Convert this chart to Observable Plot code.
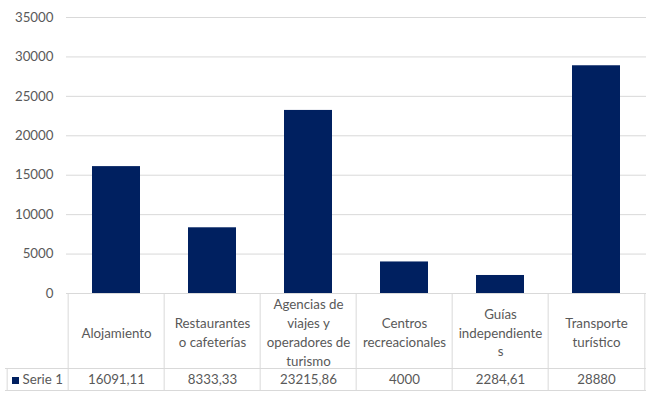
<!DOCTYPE html>
<html>
<head>
<meta charset="utf-8">
<script src="https://cdn.jsdelivr.net/npm/d3@7"></script>
<script src="https://cdn.jsdelivr.net/npm/@observablehq/plot@0.6"></script>
<style>
  html, body { margin: 0; padding: 0; background: #fff; }
</style>
</head>
<body>
<div id="chart"></div>
<script>
// ---- data ----
const categories = ["Alojamiento", "Restaurantes o cafeterías", "Agencias de viajes y operadores de turismo", "Centros recreacionales", "Guías independientes", "Transporte turístico"];
const categoryLabels = ["Alojamiento", "Restaurantes\no cafeterías", "Agencias de\nviajes y\noperadores de\nturismo", "Centros\nrecreacionales", "Guías\nindependiente\ns", "Transporte\nturístico"];
const values = [16091.11, 8333.33, 23215.86, 4000, 2284.61, 28880];
const seriesName = "Serie 1";
const yTicks = [0, 5000, 10000, 15000, 20000, 25000, 30000, 35000];

// ---- layout ----
const W = 653, H = 401;
const mL = 66, mR = 7, mT = 17, mB = 108;
const plotH = H - mT - mB;            // chart area height
const headerH = 75, rowH = 22;         // data table rows
const legendW = 61;                     // left legend cell width
const step = (W - mL - mR) / categories.length;
const gridColor = "#d9d9d9";
const textColor = "#595959";
const barColor = "#002060";

const data = categories.map((c, i) => ({cat: c, label: categoryLabels[i], value: values[i]}));
const fmt = v => String(v).replace(".", ",");

const chart = Plot.plot({
  width: W,
  height: H,
  marginLeft: mL,
  marginRight: mR,
  marginTop: mT,
  marginBottom: mB,
  style: {fontFamily: "Lato, sans-serif", fontSize: "13.3px", color: textColor, background: "#fff"},
  x: {domain: categories, paddingInner: 0.5, paddingOuter: 0.25, axis: null},
  y: {domain: [0, 35000], axis: null},
  marks: [
    Plot.gridY(yTicks, {stroke: gridColor, strokeOpacity: 1}),
    Plot.axisY(yTicks, {tickSize: 0, tickPadding: 13, label: null, tickFormat: d => String(d), fill: textColor}),
    Plot.barY(data, {x: "cat", y: "value", fill: barColor}),
    // table borders
    Plot.ruleX(categories, {x: d => d, dx: -step / 2, insetTop: plotH, insetBottom: -(headerH + rowH), stroke: gridColor}),
    Plot.ruleX([categories[categories.length - 1]], {x: d => d, dx: step / 2, insetTop: plotH, insetBottom: -(headerH + rowH), stroke: gridColor}),
    Plot.ruleX([categories[0]], {x: d => d, dx: -step / 2 - legendW, insetTop: plotH + headerH, insetBottom: -(headerH + rowH), stroke: gridColor}),
    Plot.ruleY([0], {stroke: gridColor}),
    Plot.ruleY([0], {dy: headerH, insetLeft: -legendW, stroke: gridColor}),
    Plot.ruleY([0], {dy: headerH + rowH, insetLeft: -legendW, stroke: gridColor}),
    // table text
    Plot.text(data, {x: "cat", text: "label", frameAnchor: "bottom", dy: headerH / 2 + 0.5, lineAnchor: "middle", lineHeight: 1.42, fill: textColor}),
    Plot.text(data, {x: "cat", text: d => fmt(d.value), frameAnchor: "bottom", dy: headerH + rowH / 2, lineAnchor: "middle", fill: textColor}),
    // legend key
    Plot.dot([seriesName], {frameAnchor: "bottom-left", dx: -51, dy: headerH + rowH / 2 + 1, symbol: "square", r: 3.95, fill: barColor, stroke: null}),
    Plot.text([seriesName], {frameAnchor: "bottom-left", text: d => d, dx: -44, dy: headerH + rowH / 2, textAnchor: "start", lineAnchor: "middle", fill: textColor})
  ]
});
document.getElementById("chart").appendChild(chart);
</script>
</body>
</html>
